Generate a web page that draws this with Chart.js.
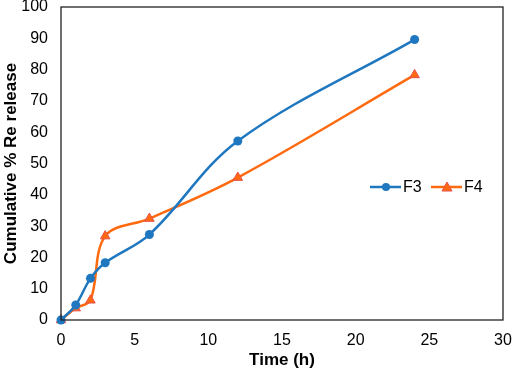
<!DOCTYPE html>
<html>
<head>
<meta charset="utf-8">
<script src="https://cdn.jsdelivr.net/npm/chart.js@4/dist/chart.umd.min.js"></script>
<style>
html,body{margin:0;padding:0;background:#fff;}
#wrap{width:512px;height:371px;position:relative;}
</style>
</head>
<body>
<div id="wrap"><canvas id="c" width="512" height="371"></canvas></div>
<script>
const timeH = [0, 1, 2, 3, 6, 12, 24];
const f3Values = [0, 4.8, 13.3, 18.3, 27.3, 57.2, 89.6];
const f4Values = [0, 3.8, 6.3, 26.8, 32.4, 45.5, 78.3];
const seriesNames = ['F3', 'F4'];
const xTitle = 'Time (h)';
const yTitle = 'Cumulative % Re release';

const blue = '#1F77C0';
const orange = '#FF6A10';
const triBorder = '#E8504A';
const FONT = '"Liberation Sans", Arial, sans-serif';

const toPts = (vals) => timeH.map((t, i) => ({x: t, y: vals[i]}));

const frame = {
  id: 'frame',
  afterDatasetsDraw(chart) {
    const a = chart.chartArea, ctx = chart.ctx;
    ctx.save();
    ctx.strokeStyle = '#222';
    ctx.lineWidth = 1.3;
    ctx.strokeRect(a.left, a.top, a.right - a.left, a.bottom - a.top);
    ctx.restore();
  }
};

const legendPlug = {
  id: 'legendPlug',
  afterDraw(chart) {
    const ctx = chart.ctx;
    const y = 187;
    const items = [
      {x: 370, name: seriesNames[0], color: blue, shape: 'circle'},
      {x: 431, name: seriesNames[1], color: orange, shape: 'tri'}
    ];
    ctx.save();
    ctx.font = '16px ' + FONT;
    ctx.textBaseline = 'middle';
    items.forEach(it => {
      ctx.strokeStyle = it.color;
      ctx.lineWidth = 2.5;
      ctx.beginPath();
      ctx.moveTo(it.x, y);
      ctx.lineTo(it.x + 31, y);
      ctx.stroke();
      const cx = it.x + 16;
      if (it.shape === 'circle') {
        ctx.fillStyle = it.color;
        ctx.beginPath();
        ctx.arc(cx, y, 4, 0, Math.PI * 2);
        ctx.fill();
      } else {
        ctx.fillStyle = it.color;
        ctx.strokeStyle = triBorder;
        ctx.lineWidth = 1;
        ctx.beginPath();
        ctx.moveTo(cx, y - 5);
        ctx.lineTo(cx + 5, y + 4);
        ctx.lineTo(cx - 5, y + 4);
        ctx.closePath();
        ctx.fill();
        ctx.stroke();
      }
      ctx.fillStyle = '#000';
      ctx.fillText(it.name, it.x + 33, y + 1);
    });
    ctx.restore();
  }
};

new Chart(document.getElementById('c'), {
  type: 'line',
  data: {
    datasets: [
      {
        label: seriesNames[0],
        data: toPts(f3Values),
        borderColor: blue,
        backgroundColor: blue,
        borderWidth: 2.5,
        pointStyle: 'circle',
        pointRadius: 4.5,
        pointBorderWidth: 0,
        tension: 0.35
      },
      {
        label: seriesNames[1],
        data: toPts(f4Values),
        borderColor: orange,
        backgroundColor: orange,
        borderWidth: 2.5,
        pointStyle: 'triangle',
        pointRadius: 5.5,
        pointBorderColor: triBorder,
        pointBorderWidth: 1,
        tension: 0.35
      }
    ]
  },
  options: {
    responsive: false,
    animation: false,
    clip: false,
    layout: {padding: {top: 7, right: 9, left: 0, bottom: 0}},
    plugins: {legend: {display: false}, tooltip: {enabled: false}},
    scales: {
      x: {
        type: 'linear',
        min: 0, max: 30,
        ticks: {stepSize: 5, color: '#000', font: {family: FONT, size: 16}, padding: 11, maxRotation: 0},
        grid: {display: false, drawTicks: false},
        border: {display: false},
        title: {display: true, text: xTitle, color: '#000', font: {family: FONT, size: 17, weight: 'bold'}, padding: {top: 4, bottom: 0}},
        afterFit(s) { s.height = 51; s.paddingLeft = 0; s.paddingRight = 0; }
      },
      y: {
        min: 0, max: 100,
        ticks: {stepSize: 10, color: '#000', font: {family: FONT, size: 16}, padding: 13},
        grid: {display: false, drawTicks: false},
        border: {display: false},
        title: {display: true, text: yTitle, color: '#000', font: {family: FONT, size: 17, weight: 'bold'}, padding: {top: 1, bottom: 0}},
        afterFit(s) { s.width = 61; s.paddingTop = 0; s.paddingBottom = 0; }
      }
    }
  },
  plugins: [frame, legendPlug]
});
</script>
</body>
</html>
